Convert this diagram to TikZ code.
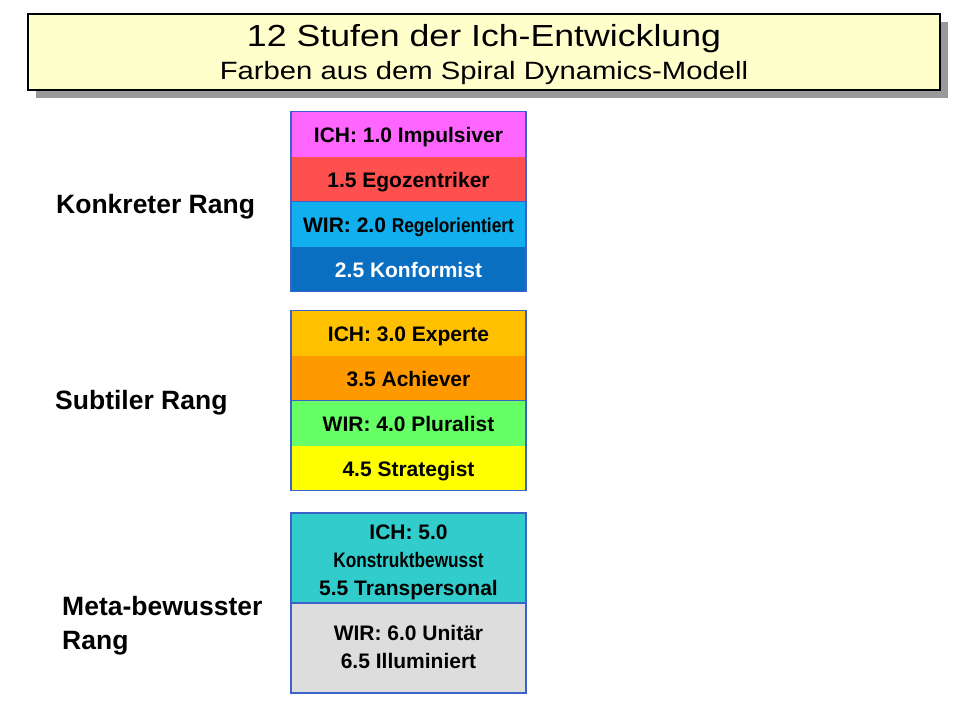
\documentclass[tikz,border=0pt]{standalone}
\usepackage{fontspec}
\setmainfont{Liberation Sans}
\usepackage{graphicx}
\usepackage{xcolor}
\usepackage{tikz}
\usetikzlibrary{positioning,shadows}
\definecolor{titelgelb}{HTML}{FFFFCC}
\definecolor{schatten}{HTML}{999999}
\definecolor{rahmenblau}{HTML}{3A62C8}
\definecolor{rosa}{HTML}{FF66FF}
\definecolor{rot}{HTML}{FF5050}
\definecolor{hellblau}{HTML}{11AFEE}
\definecolor{dunkelblau}{HTML}{0B6FC1}
\definecolor{gold}{HTML}{FFC000}
\definecolor{orange}{HTML}{FF9900}
\definecolor{gruen}{HTML}{66FF66}
\definecolor{gelb}{HTML}{FFFF00}
\definecolor{tuerkis}{HTML}{33CCCC}
\definecolor{hellgrau}{HTML}{DDDDDD}
\newcommand{\schmal}[2]{\scalebox{#1}[1]{#2}}

\begin{document}
\begin{tikzpicture}[
  x=1pt,y=-1pt,
  node distance=0pt,
  titelbox/.style={draw=black,line width=1.4pt,fill=titelgelb,minimum width=912pt,minimum height=76pt,
    drop shadow={shadow xshift=8pt,shadow yshift=-8pt,fill=schatten,opacity=1}},
  titeltext/.style={anchor=base,inner sep=0pt},
  stufe/.style={minimum width=235pt,minimum height=45pt,inner sep=0pt,outer sep=0pt,align=center,
    text height=17pt,text depth=0pt,font=\fontsize{21}{28}\selectfont\bfseries},
  doppelstufe/.style={minimum width=235pt,minimum height=90pt,inner sep=0pt,outer sep=0pt,align=center,
    text depth=0pt,font=\fontsize{21}{28}\selectfont\bfseries},
  rahmen/.style={draw=rahmenblau,line width=1.6pt},
  rang/.style={anchor=base west,inner sep=0pt,align=left,font=\fontsize{26.5}{34}\selectfont\bfseries}
]
\useasboundingbox (0,0) rectangle (960,720);
\node[titelbox] (titel) at (484,52) {};
\node[titeltext,font=\fontsize{30.5}{32}\selectfont] (titel1) at (484,46.5) {\schmal{1.17}{12 Stufen der Ich-Entwicklung}};
\node[titeltext,font=\fontsize{25}{27}\selectfont] (titel2) at (484,79) {\schmal{1.17}{Farben aus dem Spiral Dynamics-Modell}};

\node[stufe,fill=rosa] (s10) at (408.5,134) {ICH: 1.0 Impulsiver};
\node[stufe,fill=rot,below=of s10] (s15) {1.5 Egozentriker};
\node[stufe,fill=hellblau,below=of s15] (s20) {WIR: 2.0 \schmal{0.865}{\fontsize{20}{28}\selectfont Regelorientiert}};
\node[stufe,fill=dunkelblau,text=white,below=of s20] (s25) {2.5 Konformist};
\draw[rahmen] (s10.north west) rectangle (s25.south east);
\draw[rahmen] (s15.south west) -- (s15.south east);

\node[stufe,fill=gold] (s30) at (408.5,333) {ICH: 3.0 Experte};
\node[stufe,fill=orange,below=of s30] (s35) {3.5 Achiever};
\node[stufe,fill=gruen,below=of s35] (s40) {WIR: 4.0 Pluralist};
\node[stufe,fill=gelb,below=of s40] (s45) {4.5 Strategist};
\draw[rahmen] (s30.north west) rectangle (s45.south east);
\draw[rahmen] (s35.south west) -- (s35.south east);

\node[doppelstufe,text height=74pt,fill=tuerkis] (s50) at (408.5,558) {ICH: 5.0\\\schmal{0.82}{Konstruktbewusst}\\5.5 Transpersonal};
\node[doppelstufe,text height=40pt,fill=hellgrau,below=of s50] (s60) {WIR: 6.0 Unitär\\6.5 Illuminiert};
\draw[rahmen] (s50.north west) rectangle (s60.south east);
\draw[rahmen] (s50.south west) -- (s50.south east);

\node[rang] (konkret) at (56,213) {Konkreter Rang};
\node[rang] (subtil) at (55,409) {Subtiler Rang};
\node[rang] (meta) at (62,649) {Meta-bewusster\\Rang};
\end{tikzpicture}
\end{document}
